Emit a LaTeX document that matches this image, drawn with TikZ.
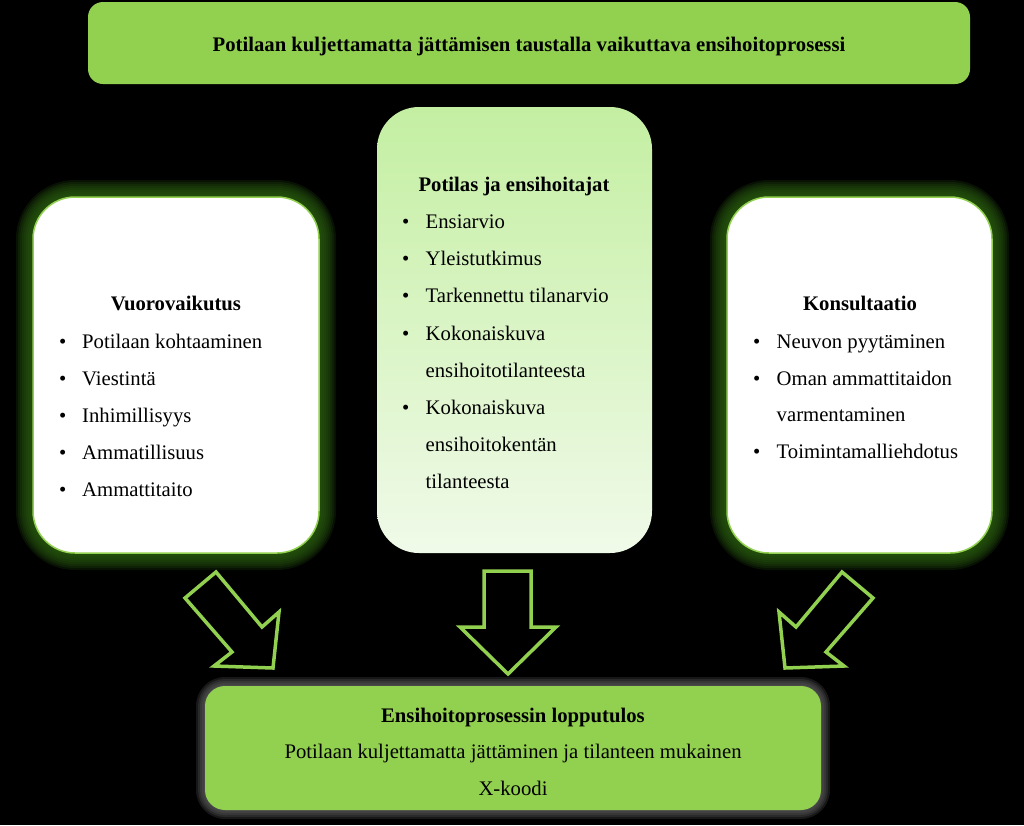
\documentclass[tikz,border=0pt]{standalone}
\usepackage{fontspec}
\setmainfont{Liberation Serif}
\definecolor{lgreen}{RGB}{146,208,80}
\definecolor{glowg}{RGB}{42,92,15}
\definecolor{glowgray}{RGB}{105,105,105}
\definecolor{ctop}{RGB}{196,239,162}
\definecolor{cbot}{RGB}{240,250,233}
\newcommand\myglow[6]{%
  \foreach \i in {17,15,...,1}{%
    \pgfmathsetmacro\rr{#5+\i}%
    \fill[#6, opacity=0.2, rounded corners=\rr pt] (#1-\i,#2-\i) rectangle (#3+\i,#4+\i);
  }}
\begin{document}
\begin{tikzpicture}[x=1pt,y=-1pt,
  txt/.style={font=\fontsize{20.7}{24}\selectfont, inner sep=0pt, anchor=base west},
  head/.style={font=\fontsize{20.7}{24}\selectfont\bfseries, inner sep=0pt, anchor=base},
  ctxt/.style={font=\fontsize{20.7}{24}\selectfont, inner sep=0pt, anchor=base},
  bul/.style={font=\fontsize{20.7}{24}\selectfont, inner sep=0pt, anchor=base west},
  outarrow/.style={draw=lgreen, line width=3.5pt, fill=black, line join=miter}]
\fill[black] (0,0) rectangle (1024,825);
\useasboundingbox (0,0) rectangle (1024,825);

% glows
\myglow{33}{197}{319}{553}{42}{glowg}
\myglow{727}{197}{992}{553}{42}{glowg}
\foreach \i in {9,7,...,1}{%
  \pgfmathsetmacro\rr{20+\i}%
  \fill[glowgray, opacity=0.22, rounded corners=\rr pt] (205-\i,686-\i) rectangle (821+\i,810+\i);
}

% top bar
\node[fill=lgreen, rounded corners=15pt, minimum width=882pt, minimum height=82pt, inner sep=0pt] (top) at (529,43) {};
\node[head] (toptxt) at (529,51) {Potilaan kuljettamatta jättämisen taustalla vaikuttava ensihoitoprosessi};

% left box
\node[fill=white, draw=lgreen, line width=1.5pt, rounded corners=42pt, minimum width=286pt, minimum height=356pt, inner sep=0pt] (L) at (176,375) {};
\node[head] (Lh) at (176,310) {Vuorovaikutus};
\foreach \t [count=\k] in {Potilaan kohtaaminen, Viestintä, Inhimillisyys, Ammatillisuus, Ammattitaito}{
  \node[bul] (Lb\k) at (59,{348+37.2*(\k-1)}) {•};
  \node[txt] (Lt\k) at (82,{348+37.2*(\k-1)}) {\t};
}

% center box
\shade[top color=ctop, bottom color=cbot, rounded corners=42pt] (377,107) rectangle (652,553);
\node[minimum width=275pt, minimum height=446pt, inner sep=0pt] (C) at (514.5,330) {};
\node[head] (Ch) at (514,191) {Potilas ja ensihoitajat};
\node[bul] (Cb1) at (402,228) {•};
\node[txt] (Ct1) at (425.5,228) {Ensiarvio};
\node[bul] (Cb2) at (402,265.5) {•};
\node[txt] (Ct2) at (425.5,265.5) {Yleistutkimus};
\node[bul] (Cb3) at (402,302.7) {•};
\node[txt] (Ct3) at (425.5,302.7) {Tarkennettu tilanarvio};
\node[bul] (Cb4) at (402,340) {•};
\node[txt] (Ct4) at (425.5,340) {Kokonaiskuva};
\node[txt] (Ct4b) at (425.5,377) {ensihoitotilanteesta};
\node[bul] (Cb5) at (402,414.5) {•};
\node[txt] (Ct5) at (425.5,414.5) {Kokonaiskuva};
\node[txt] (Ct5b) at (425.5,451.7) {ensihoitokentän};
\node[txt] (Ct5c) at (425.5,488.5) {tilanteesta};

% right box
\node[fill=white, draw=lgreen, line width=1.5pt, rounded corners=42pt, minimum width=265pt, minimum height=356pt, inner sep=0pt] (R) at (859.5,375) {};
\node[head] (Rh) at (860,310) {Konsultaatio};
\node[bul] (Rb1) at (753,348) {•};
\node[txt] (Rt1) at (776.5,348) {Neuvon pyytäminen};
\node[bul] (Rb2) at (753,385) {•};
\node[txt] (Rt2) at (776.5,385) {Oman ammattitaidon};
\node[txt] (Rt2b) at (776.5,421) {varmentaminen};
\node[bul] (Rb3) at (753,458) {•};
\node[txt] (Rt3) at (776.5,458) {Toimintamalliehdotus};

% bottom box
\node[fill=lgreen, rounded corners=20pt, minimum width=616pt, minimum height=124pt, inner sep=0pt] (B) at (513,748) {};
\node[head] (Bh) at (513,722) {Ensihoitoprosessin lopputulos};
\node[ctxt] (Bt1) at (513,758) {Potilaan kuljettamatta jättäminen ja tilanteen mukainen};
\node[ctxt] (Bt2) at (513,795) {X-koodi};

% arrows
\draw[outarrow] (842,572) -- (873,598) -- (826,652) -- (844,666) -- (785,668) -- (779,612) -- (796,627) -- cycle;
\draw[outarrow] (216,572) -- (185,598) -- (232,652) -- (214,666) -- (273,668) -- (279,612) -- (262,627) -- cycle;
\draw[outarrow] (484,571) -- (531,571) -- (531,627) -- (556,627) -- (508,674) -- (460,627) -- (484,627) -- cycle;
\end{tikzpicture}
\end{document}
